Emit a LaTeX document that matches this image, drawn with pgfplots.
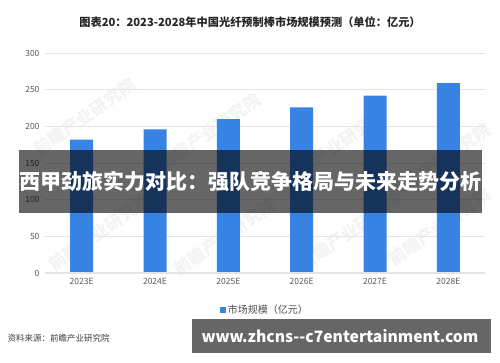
\documentclass[border=0pt]{standalone}
\usepackage{fontspec}
\setmainfont{Noto Sans CJK SC}
\usepackage{pgfplots}
\pgfplotsset{compat=1.18}
\definecolor{barblue}{HTML}{3884E4}
\definecolor{gridgray}{HTML}{E4E4E4}
\definecolor{ticktext}{HTML}{595959}
\definecolor{wm}{HTML}{F2F3F5}
\begin{document}
\begin{tikzpicture}[x=1pt,y=1pt]
\useasboundingbox[fill=white] (0,0) rectangle (500,362);
% watermarks
\foreach \px/\py in {85/245,210/230,335/215,440/200,100/130,225/125,350/130,440/135}{
  \node[rotate=35,text=wm,font=\bfseries\fontsize{17}{17}\selectfont] at (\px,\py) {前瞻产业研究院};
}
\node[font=\bfseries\fontsize{11.2}{13}\selectfont,text=black!85] at (250,340) {图表20：2023-2028年中国光纤预制棒市场规模预测（单位：亿元）};
\begin{axis}[
  at={(45pt,89pt)}, anchor=south west,
  scale only axis, width=440pt, height=220pt,
  ymin=0, ymax=300, ytick={0,50,...,300},
  xmin=-0.5, xmax=5.5,
  xtick={0,...,5},
  xticklabels={2023E,2024E,2025E,2026E,2027E,2028E},
  axis line style={draw=none},
  tick style={draw=none},
  ymajorgrids, grid style={gridgray, line width=1pt},
  tick label style={font=\fontsize{8.5}{10}\selectfont, text=ticktext},
  /pgf/number format/assume math mode=true,
  yticklabel style={xshift=-2pt},
  xticklabel style={yshift=-2pt},
  legend style={at={(0.5,-0.125)}, anchor=north, draw=none, fill=none,
    font=\fontsize{10}{12}\selectfont, text=black!70, legend columns=1},
  legend image code/.code={\fill[barblue] (0pt,-3pt) rectangle (6pt,3pt);},
]
\addplot[ybar, bar width=23pt, fill=barblue, draw=none, bar shift=0pt]
  coordinates {(0,182) (1,196) (2,210) (3,226) (4,242) (5,259)};
\addlegendentry{市场规模（亿元）}
\draw[gridgray, line width=1.5pt] (rel axis cs:0,0) -- (rel axis cs:1,0);
\end{axis}
\node[anchor=west,font=\fontsize{8.5}{10}\selectfont,text=black!75] at (4,24) {资料来源：前瞻产业研究院};
% overlay band
\fill[black, opacity=0.6] (19,149) rectangle (482,212);
\node[text=white,font=\bfseries\fontsize{21}{24}\selectfont] at (250.5,181) {西甲劲旅实力对比：强队竞争格局与未来走势分析};
% bottom banner
\fill[black!60] (192,9) rectangle (491,43);
\node[text=white,font=\bfseries\fontsize{15.7}{18}\selectfont] at (340,26) {www.zhcns-{}-c7entertainment.com};
\end{tikzpicture}
\end{document}
